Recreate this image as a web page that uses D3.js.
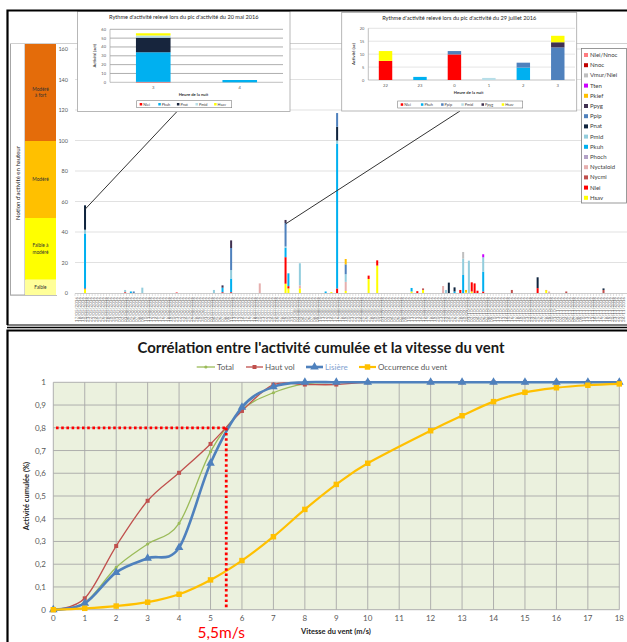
<!DOCTYPE html>
<html><head><meta charset="utf-8">
<script src="https://cdn.jsdelivr.net/npm/d3@7"></script>
<style>body{margin:0;background:#fff}svg{display:block}</style>
</head><body><svg id="c" width="627" height="642"></svg>
<script>
// ---------------- DATA ----------------
// Top chart: species in stacking order (bottom -> top)
const speciesNames = ["Hsav","Nlei","Nycmi","Nyctaloid","Phoch","Pkuh","Pmid","Pnat","Ppip","Ppyg","Pkief","Tten","Vmur/Nlei","Nnoc","Nlei/Nnoc"];
const speciesColors = ["#FFFF00","#FF0000","#C0504D","#E6AFAE","#B3A2C7","#00B0F0","#93CDDD","#0F243E","#4F81BD","#403151","#FFC000","#CC00FF","#BFBFBF","#C00000","#FF7C80"];
const seasonStart = "17/05/2016";
const seasonEnd = "24/11/2016";
// nights with recorded activity (all other nights: 0)
const nightActivity = [
  {date:"20/05/2016", Hsav:2.5, Nlei:0.5, Pkuh:36, Pmid:2.5, Pnat:16},
  {date:"03/06/2016", Nlei:0.5, Pmid:1.5},
  {date:"05/06/2016", Pkuh:1},
  {date:"06/06/2016", Ppip:1},
  {date:"09/06/2016", Pmid:3.5},
  {date:"21/06/2016", "Nlei/Nnoc":0.6},
  {date:"04/07/2016", Pmid:2},
  {date:"07/07/2016", Nlei:0.5, Pkuh:3, Ppyg:1.5},
  {date:"10/07/2016", Nlei:0.5, Pkuh:9, Pmid:5.5, Ppip:14.5, Ppyg:5},
  {date:"20/07/2016", Nyctaloid:6.3},
  {date:"29/07/2016", Hsav:6.1, Nlei:17.4, Pkuh:6.2, Pmid:0.8, Ppip:15.4, Ppyg:2},
  {date:"30/07/2016", Hsav:3, Nlei:1.5, Pkuh:8.4},
  {date:"03/08/2016", Hsav:3, Nyctaloid:2, Pmid:14.5},
  {date:"12/08/2016", Pkuh:1},
  {date:"14/08/2016", Hsav:0.6},
  {date:"16/08/2016", Nlei:3, Pkuh:95, Pmid:2, Pnat:9, Ppip:9},
  {date:"19/08/2016", Hsav:1.3, Nyctaloid:6, Pmid:5, Ppip:6.5, Pkief:3.5},
  {date:"27/08/2016", Hsav:9.2, Nlei:2.2},
  {date:"30/08/2016", Hsav:18, Nlei:3.4},
  {date:"11/09/2016", Hsav:1, Pkuh:2.3},
  {date:"13/09/2016", Nlei:1.2},
  {date:"15/09/2016", Hsav:2, Nycmi:1},
  {date:"22/09/2016", Nyctaloid:4.6},
  {date:"23/09/2016", Pmid:2},
  {date:"24/09/2016", Pnat:6.8},
  {date:"26/09/2016", Pkuh:1, Pnat:2.7},
  {date:"28/09/2016", Nlei:2},
  {date:"29/09/2016", Pkuh:11.8, Pmid:10.7, "Vmur/Nlei":4.4},
  {date:"30/09/2016", Hsav:0.5, Pkief:1.5},
  {date:"01/10/2016", Pmid:21.2},
  {date:"02/10/2016", Hsav:1, Nlei:6},
  {date:"03/10/2016", Nlei:6.3},
  {date:"04/10/2016", Nlei:1.5},
  {date:"06/10/2016", Nlei:1, Pkuh:13, Pmid:9.4, Tten:2},
  {date:"16/10/2016", Nycmi:2},
  {date:"25/10/2016", Nlei:3.2, Pnat:7.1},
  {date:"28/10/2016", Hsav:1.5, Pkief:0.5},
  {date:"29/10/2016", Nyctaloid:1},
  {date:"04/11/2016", Nycmi:1},
  {date:"17/11/2016", Nycmi:2, Pnat:1}
];
const activityTicks = [0,20,40,60,80,100,120,140,160];
const levelNames = ["Faible","Faible à modéré","Modéré","Modéré à fort"];
const levelBounds = [0,10,50,100,163];
const levelColors = ["#FFFF99","#FFFF00","#FFC000","#E46C0A"];

// Inset 1: 20 mai 2016
const inset1Hours = ["3","4"];
const inset1Species = ["Nlei","Pkuh","Pnat","Pmid","Hsav"];
const inset1Colors = ["#FF0000","#00B0F0","#17253D","#B7DEE8","#FFFF00"];
const inset1Nlei = [0.5,0];
const inset1Pkuh = [33.5,2.6];
const inset1Pnat = [16.5,0];
const inset1Pmid = [2.5,0];
const inset1Hsav = [2.5,0];
const inset1Ticks = [0,10,20,30,40,50,60];

// Inset 2: 29 juillet 2016
const inset2Hours = ["22","23","0","1","2","3"];
const inset2Species = ["Nlei","Pkuh","Ppip","Pmid","Ppyg","Hsav"];
const inset2Colors = ["#FF0000","#00B0F0","#4F81BD","#B7DEE8","#403151","#FFFF00"];
const inset2Nlei = [7.4,0,9.9,0,0,0];
const inset2Pkuh = [0,1.2,0,0,4.8,0];
const inset2Ppip = [0,0,1.3,0,1.9,12.6];
const inset2Pmid = [0,0,0,0.8,0,0];
const inset2Ppyg = [0,0,0,0,0,2];
const inset2Hsav = [3.8,0,0,0,0,2.5];
const inset2Ticks = [0,5,10,15,20];

// Bottom chart: wind speed (m/s) vs cumulated activity
const windSpeed   = [0,1,2,3,4,5,6,7,8,9,10,12,13,14,15,16,17,18];
const totalCum    = [0,0.031,0.186,0.289,0.38,0.695,0.878,0.954,0.993,1,1,1,1,1,1,1,1,1];
const hautVolCum  = [0,0.05,0.28,0.479,0.602,0.729,0.874,0.99,0.99,0.99,1,1,1,1,1,1,1,1];
const lisiereCum  = [0,0.028,0.164,0.226,0.273,0.644,0.89,0.98,1,1,1,1,1,1,1,1,1,1];
const ventCum     = [0,0.006,0.016,0.033,0.068,0.131,0.216,0.321,0.441,0.551,0.644,0.787,0.853,0.915,0.956,0.976,0.987,0.993];
const windTicks = [0,1,2,3,4,5,6,7,8,9,10,11,12,13,14,15,16,17,18];
const cumTicks = [0,0.1,0.2,0.3,0.4,0.5,0.6,0.7,0.8,0.9,1];
const thresholdWind = 5.5, thresholdCum = 0.8;

// ---------------- DRAW ----------------
const FONT = "Lato, 'Liberation Sans', sans-serif";
const svg = d3.select("#c").attr("font-family", FONT);
svg.append("rect").attr("width",627).attr("height",642).attr("fill","#fff");

// ===== TOP PANEL =====
const topG = svg.append("g");
topG.append("rect").attr("x",10.5).attr("y",43.5).attr("width",14.5).attr("height",251.5).attr("fill","#fff").attr("stroke","#A6A6A6");
topG.append("text").attr("transform","translate(19.5,183) rotate(-90)").attr("text-anchor","middle")
  .attr("font-size",6).attr("fill","#222").text("Notion d'activité en hauteur");
const yBand = d3.scaleLinear().domain([0,100]).range([295,141]);
levelNames.forEach((n,i)=>{
  const y0 = yBand(levelBounds[i]), y1 = yBand(levelBounds[i+1]);
  topG.append("rect").attr("x",25).attr("y",y1).attr("width",31).attr("height",y0-y1).attr("fill",levelColors[i]);
});
topG.append("line").attr("x1",10).attr("x2",627).attr("y1",43.5).attr("y2",43.5).attr("stroke","#D0D0D0");
topG.append("line").attr("x1",10).attr("x2",57).attr("y1",295.5).attr("y2",295.5).attr("stroke","#BFBFBF");
const levelLabelLines = [["Faible"],["Faible à","modéré"],["Modéré"],["Modéré","à fort"]];
levelLabelLines.forEach((lines,i)=>{
  const yc = (yBand(levelBounds[i])+yBand(levelBounds[i+1]))/2 + 1.5;
  lines.forEach((l,j)=>{
    topG.append("text").attr("x",40.5).attr("y",yc+(j-(lines.length-1)/2)*6.5).attr("text-anchor","middle")
      .attr("font-size",4.8).attr("fill","#333").text(l);
  });
});

const dp = d3.timeParse("%d/%m/%Y"), df = d3.timeFormat("%d/%m/%Y");
const days = d3.timeDay.range(dp(seasonStart), d3.timeDay.offset(dp(seasonEnd),1)).map(df);
const byDate = new Map(nightActivity.map(d=>[d.date,d]));
const rows = days.map(k=>{const r={date:k}; const s=byDate.get(k)||{}; speciesNames.forEach(n=>r[n]=s[n]||0); return r;});
const xMain = d3.scaleBand().domain(days).range([75,625]).paddingInner(0.3).paddingOuter(0.15);
const yMain = d3.scaleLinear().domain([0,160]).range([293,49]);

activityTicks.filter(t=>t>0).forEach(t=>{
  topG.append("line").attr("x1",75).attr("x2",627).attr("y1",yMain(t)).attr("y2",yMain(t)).attr("stroke","#D9D9D9").attr("stroke-width",0.8);
});
activityTicks.forEach(t=>{
  topG.append("text").attr("x",68).attr("y",yMain(t)+2).attr("text-anchor","end").attr("font-size",5.5).attr("fill","#595959").text(t);
});
topG.append("line").attr("x1",75).attr("x2",627).attr("y1",293.5).attr("y2",293.5).attr("stroke","#BFBFBF").attr("stroke-width",0.8);
days.forEach(d=>{
  const x = xMain(d) - xMain.step()*xMain.paddingInner()/2;
  topG.append("line").attr("x1",x).attr("x2",x).attr("y1",293.5).attr("y2",296).attr("stroke","#BFBFBF").attr("stroke-width",0.5);
});
const stacked = d3.stack().keys(speciesNames)(rows);
stacked.forEach((layer,i)=>{
  topG.append("g").attr("fill",speciesColors[i]).selectAll("rect")
    .data(layer.filter(d=>d[1]-d[0]>0)).join("rect")
    .attr("x",d=>xMain(d.data.date)).attr("width",xMain.bandwidth())
    .attr("y",d=>yMain(d[1])).attr("height",d=>yMain(d[0])-yMain(d[1]));
});
days.forEach(d=>{
  topG.append("text").attr("transform",`translate(${xMain(d)+xMain.bandwidth()/2+1.5},297) rotate(-90)`)
    .attr("text-anchor","end").attr("font-size",4.5).attr("fill","#6A6A6A").text(d);
});

const lg = topG.append("g");
lg.append("rect").attr("x",581.5).attr("y",48.5).attr("width",45).attr("height",154.5).attr("fill","#fff").attr("stroke","#808080").attr("stroke-width",0.8);
speciesNames.slice().reverse().forEach((n,i)=>{
  const c = speciesColors[speciesNames.indexOf(n)];
  const y = 55 + i*10.2;
  lg.append("rect").attr("x",584).attr("y",y-2).attr("width",4).attr("height",4).attr("fill",c);
  lg.append("text").attr("x",590).attr("y",y+2).attr("font-size",6).attr("fill","#404040").text(n);
});

const peak1 = "20/05/2016", peak2 = "29/07/2016";
const tot = d => speciesNames.reduce((a,n)=>a+(byDate.get(d)[n]||0),0);
topG.append("line").attr("x1",xMain(peak1)+xMain.bandwidth()/2).attr("y1",yMain(tot(peak1))+4)
  .attr("x2",177).attr("y2",111.5).attr("stroke","#333").attr("stroke-width",1);
topG.append("line").attr("x1",xMain(peak2)+xMain.bandwidth()/2).attr("y1",yMain(tot(peak2))+4)
  .attr("x2",460).attr("y2",111).attr("stroke","#333").attr("stroke-width",1);

function inset(cfg){
  const g = topG.append("g");
  g.append("rect").attr("x",cfg.bx).attr("y",cfg.by).attr("width",cfg.bw).attr("height",cfg.bh)
    .attr("fill","#fff").attr("stroke","#A6A6A6").attr("stroke-width",0.8);
  g.append("text").attr("x",cfg.bx+cfg.bw/2).attr("y",cfg.by+7.5).attr("text-anchor","middle")
    .attr("font-size",5.6).attr("fill","#262626").text(cfg.title);
  const y = d3.scaleLinear().domain([0,cfg.max]).range([cfg.y0,cfg.y1]);
  const x = d3.scaleBand().domain(cfg.hours).range([cfg.x0,cfg.x1]).paddingInner(cfg.pad).paddingOuter(cfg.pad/2);
  cfg.ticks.forEach(t=>{
    g.append("line").attr("x1",cfg.x0).attr("x2",cfg.x1).attr("y1",y(t)).attr("y2",y(t)).attr("stroke",t===0?"#A6A6A6":cfg.grid).attr("stroke-width",0.7);
    g.append("text").attr("x",cfg.x0-4).attr("y",y(t)+1.5).attr("text-anchor","end").attr("font-size",4).attr("fill","#595959").text(t);
  });
  g.append("line").attr("x1",cfg.x0).attr("x2",cfg.x0).attr("y1",cfg.y1).attr("y2",cfg.y0).attr("stroke","#A6A6A6").attr("stroke-width",0.7);
  const rowsI = cfg.hours.map((h,i)=>{const r={h}; cfg.species.forEach((s,j)=>r[s]=cfg.values[j][i]); return r;});
  d3.stack().keys(cfg.species)(rowsI).forEach((layer,i)=>{
    g.append("g").attr("fill",cfg.colors[i]).selectAll("rect").data(layer.filter(d=>d[1]-d[0]>0)).join("rect")
      .attr("x",d=>x(d.data.h)).attr("width",x.bandwidth()).attr("y",d=>y(d[1])).attr("height",d=>y(d[0])-y(d[1]));
  });
  cfg.hours.forEach(h=>{
    g.append("text").attr("x",x(h)+x.bandwidth()/2).attr("y",cfg.y0+7).attr("text-anchor","middle").attr("font-size",4.2).attr("fill","#595959").text(h);
  });
  g.append("text").attr("x",(cfg.x0+cfg.x1)/2-3).attr("y",cfg.y0+14).attr("text-anchor","middle").attr("font-size",4.2).attr("font-weight","bold").attr("fill","#333").text("Heure de la nuit");
  g.append("text").attr("transform",`translate(${cfg.ytx},${(cfg.y0+cfg.y1)/2}) rotate(-90)`).attr("text-anchor","middle").attr("font-size",4.2).attr("font-weight","bold").attr("fill","#333").text(cfg.ytitle);
  g.append("rect").attr("x",cfg.lx).attr("y",cfg.ly).attr("width",cfg.lw).attr("height",7).attr("fill","#fff").attr("stroke","#808080").attr("stroke-width",0.6);
  cfg.species.forEach((s,i)=>{
    const lx = cfg.lx+3+i*cfg.ls;
    g.append("rect").attr("x",lx).attr("y",cfg.ly+2.3).attr("width",2.5).attr("height",2.5).attr("fill",cfg.colors[i]);
    g.append("text").attr("x",lx+3.5).attr("y",cfg.ly+5).attr("font-size",3.8).attr("fill","#404040").text(s);
  });
}
inset({bx:77.5,by:11.5,bw:212.5,bh:100,title:"Rythme d'activité relevé lors du pic d'activité du 20 mai 2016",
  max:60,y0:82.3,y1:29.3,x0:110,x1:283,hours:inset1Hours,pad:0.6,ticks:inset1Ticks,grid:"#8C8C8C",
  species:inset1Species,colors:inset1Colors,values:[inset1Nlei,inset1Pkuh,inset1Pnat,inset1Pmid,inset1Hsav],
  ytx:96,ytitle:"Activité (act)",lx:136.7,ly:100.7,lw:95,ls:18.6});
inset({bx:341.7,by:12.5,bw:235,bh:98.5,title:"Rythme d'activité relevé lors du pic d'activité du 29 juillet 2016",
  max:20,y0:80,y1:28.3,x0:368.3,x1:575,hours:inset2Hours,pad:0.61,ticks:inset2Ticks,grid:"#D9D9D9",
  species:inset2Species,colors:inset2Colors,values:[inset2Nlei,inset2Pkuh,inset2Ppip,inset2Pmid,inset2Ppyg,inset2Hsav],
  ytx:355,ytitle:"Activité (ac)",lx:397.7,ly:101,lw:125,ls:20.2});

svg.append("path").attr("d","M7.5,325 V10.5 H640").attr("fill","none").attr("stroke","#000").attr("stroke-width",2.2);
svg.append("line").attr("x1",7).attr("x2",627).attr("y1",325).attr("y2",325).attr("stroke","#000").attr("stroke-width",1);
svg.append("line").attr("x1",7).attr("x2",627).attr("y1",327.5).attr("y2",327.5).attr("stroke","#000").attr("stroke-width",1.4);

// ===== BOTTOM PANEL =====
const bot = svg.append("g");
bot.append("path").attr("d","M7.5,645 V330.5 H640").attr("fill","none").attr("stroke","#000").attr("stroke-width",2.2);
const xW = d3.scaleLinear().domain([0,18]).range([53.3,619.3]);
const yC = d3.scaleLinear().domain([0,1]).range([609.7,382.3]);
bot.append("rect").attr("x",xW(0)).attr("y",yC(1)).attr("width",xW(18)-xW(0)).attr("height",yC(0)-yC(1)).attr("fill","#EBF1DE");
windTicks.forEach(t=>{
  bot.append("line").attr("x1",xW(t)).attr("x2",xW(t)).attr("y1",yC(1)).attr("y2",yC(0)).attr("stroke","#A8A8A8").attr("stroke-width",0.9);
  bot.append("text").attr("x",xW(t)).attr("y",621).attr("text-anchor","middle").attr("font-size",8).attr("fill","#595959").text(t);
});
const commaFmt = v => d3.format(".1~f")(v).replace(".",",");
cumTicks.forEach(t=>{
  bot.append("line").attr("x1",xW(0)).attr("x2",xW(18)).attr("y1",yC(t)).attr("y2",yC(t)).attr("stroke","#A8A8A8").attr("stroke-width",0.9);
  bot.append("text").attr("x",46).attr("y",yC(t)+3).attr("text-anchor","end").attr("font-size",8).attr("fill","#595959").text(commaFmt(t));
});
bot.append("text").attr("x",321).attr("y",352.5).attr("text-anchor","middle").attr("font-size",14.5).attr("font-weight","bold")
  .attr("fill","#1A1A1A").attr("textLength",367).attr("lengthAdjust","spacingAndGlyphs")
  .text("Corrélation entre l'activité cumulée et la vitesse du vent");
bot.append("text").attr("x",336).attr("y",633.5).attr("text-anchor","middle").attr("font-size",7.5).attr("font-weight","bold").attr("fill","#222").text("Vitesse du vent (m/s)");
bot.append("text").attr("transform","translate(29,496) rotate(-90)").attr("text-anchor","middle").attr("font-size",7.5).attr("font-weight","bold").attr("fill","#222").text("Activité cumulée (%)");

const series = [
  {name:"Total", vals:totalCum, color:"#9BBB59", w:1.3, sym:d3.symbolCircle, size:8},
  {name:"Haut vol", vals:hautVolCum, color:"#C0504D", w:1.3, sym:d3.symbolSquare, size:16},
  {name:"Lisière", vals:lisiereCum, color:"#4F81BD", w:2.6, sym:d3.symbolTriangle, size:32},
  {name:"Occurrence du vent", vals:ventCum, color:"#FFC000", w:2.2, sym:d3.symbolSquare, size:30}
];
const line = d3.line().x(d=>xW(d[0])).y(d=>yC(d[1])).curve(d3.curveCardinal.tension(0));
series.forEach(s=>{
  const pts = windSpeed.map((w,i)=>[w,s.vals[i]]);
  bot.append("path").attr("d",line(pts)).attr("fill","none").attr("stroke",s.color).attr("stroke-width",s.w);
  bot.append("g").selectAll("path").data(pts).join("path")
    .attr("transform",d=>`translate(${xW(d[0])},${yC(d[1])})`).attr("d",d3.symbol(s.sym,s.size)).attr("fill",s.color);
});
const legX = [[196.7,217],[246,265],[306,325],[359,378]];
series.forEach((s,i)=>{
  const [lx,tx] = legX[i];
  bot.append("line").attr("x1",lx).attr("x2",tx-2).attr("y1",367).attr("y2",367).attr("stroke",s.color).attr("stroke-width",s.w);
  bot.append("path").attr("transform",`translate(${(lx+tx-2)/2},367)`).attr("d",d3.symbol(s.sym,s.size)).attr("fill",s.color);
  bot.append("text").attr("x",tx).attr("y",370).attr("font-size",8).attr("fill",i===2?"#7F9FD0":"#595959").text(s.name);
});
bot.append("line").attr("x1",56).attr("x2",xW(thresholdWind)).attr("y1",yC(thresholdCum)).attr("y2",yC(thresholdCum))
  .attr("stroke","#FF0000").attr("stroke-width",2.8).attr("stroke-dasharray","2.6,2.6");
bot.append("line").attr("x1",xW(thresholdWind)).attr("x2",xW(thresholdWind)).attr("y1",yC(thresholdCum)).attr("y2",yC(0))
  .attr("stroke","#FF0000").attr("stroke-width",2.8).attr("stroke-dasharray","2.6,2.6");
bot.append("text").attr("x",xW(thresholdWind)-5).attr("y",637.5).attr("text-anchor","middle").attr("font-size",15.5).attr("fill","#FF0000").text("5,5m/s");
</script></body></html>
